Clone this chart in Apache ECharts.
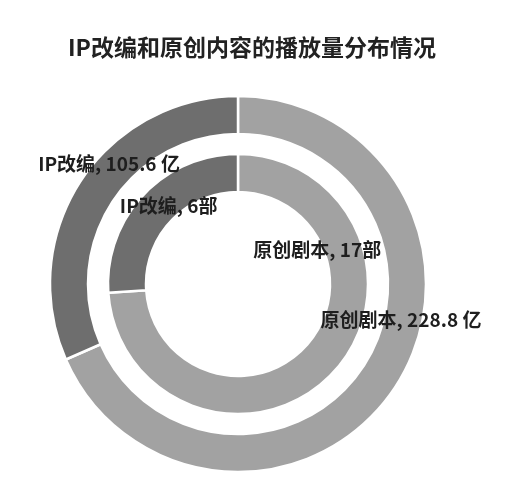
<!DOCTYPE html>
<html>
<head>
<meta charset="utf-8">
<script src="https://cdn.jsdelivr.net/npm/echarts@6/dist/echarts.min.js"></script>
<style>
html, body { margin: 0; padding: 0; background: #fff; }
#chart { width: 510px; height: 486px; }
</style>
</head>
<body>
<div id="chart"></div>
<script>
var categories = ['原创剧本', 'IP改编'];
var playCounts = [228.8, 105.6]; // 亿
var showCounts = [17, 6]; // 部
var colors = ['#a2a2a2', '#6e6e6e'];

var chart = echarts.init(document.getElementById('chart'));

var outerData = [], innerData = [];
for (var i = 0; i < categories.length; i++) {
	outerData.push({ name: categories[i], value: playCounts[i], itemStyle: { color: colors[i] } });
	innerData.push({ name: categories[i], value: showCounts[i], itemStyle: { color: colors[i] } });
}

// label nudges from the default 'inside' spot (per data index)
var outerShift = [[19, -58], [15, -26]];
var innerShift = [[-4, -112], [14, 0]];

var labelStyle = {
	show: true,
	position: 'inside',
	color: '#1e1e1e',
	fontSize: 19,
	fontWeight: 'bold',
	fontFamily: 'Noto Sans CJK SC'
};

chart.setOption({
	backgroundColor: '#fff',
	title: {
		text: 'IP改编和原创内容的播放量分布情况',
		left: 63,
		top: 31,
		textStyle: {
			color: '#222',
			fontSize: 23,
			fontWeight: 'bold',
			fontFamily: 'Noto Sans CJK SC'
		}
	},
	series: [{
		name: '播放量',
		type: 'pie',
		center: [238, 284],
		radius: [150, 188],
		startAngle: 90,
		clockwise: true,
		silent: true,
		itemStyle: { borderColor: '#fff', borderWidth: 2.5 },
		label: Object.assign({}, labelStyle, {
			formatter: function (p) { return p.name + ', ' + p.value + ' 亿'; }
		}),
		labelLine: { show: false },
		labelLayout: function (p) {
			return { dx: outerShift[p.dataIndex][0], dy: outerShift[p.dataIndex][1] };
		},
		data: outerData
	}, {
		name: '数量',
		type: 'pie',
		center: [238, 284],
		radius: [92, 130],
		startAngle: 90,
		clockwise: true,
		silent: true,
		itemStyle: { borderColor: '#fff', borderWidth: 2.5 },
		label: Object.assign({}, labelStyle, {
			formatter: function (p) { return p.name + ', ' + p.value + '部'; }
		}),
		labelLine: { show: false },
		labelLayout: function (p) {
			return { dx: innerShift[p.dataIndex][0], dy: innerShift[p.dataIndex][1] };
		},
		data: innerData
	}]
});
</script>
</body>
</html>
